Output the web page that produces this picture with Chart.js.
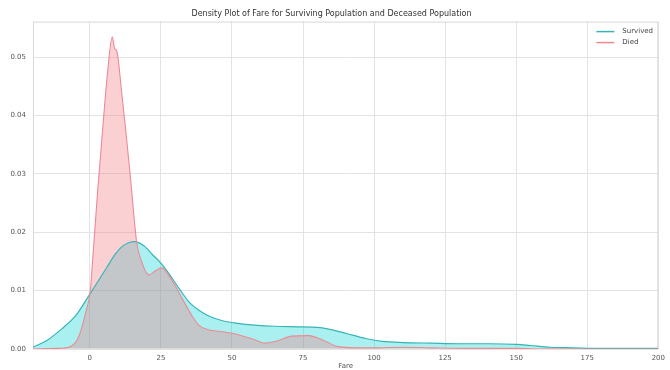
<!DOCTYPE html>
<html>
<head>
<meta charset="utf-8">
<script src="https://cdn.jsdelivr.net/npm/chart.js@4"></script>
<style>
  html, body { margin: 0; padding: 0; background: #fff; }
</style>
</head>
<body>
<canvas id="chart" width="670" height="370"></canvas>
<script>
const xTicks = [0, 25, 50, 75, 100, 125, 150, 175, 200];
const yTicks = [0, 0.01, 0.02, 0.03, 0.04, 0.05];

const survivedFare = [-20, -15, -10, -5, 0, 3, 6, 9, 12, 15.5, 19, 22, 25, 28, 31.5, 35, 38.5, 42, 47, 52, 58, 65, 73, 80, 84, 90, 97, 103, 110, 120, 130, 140, 150, 155, 162, 170, 180, 190, 200];
const survivedDensity = [0.0003, 0.0015, 0.0034, 0.0057, 0.0094, 0.0117, 0.0140, 0.0163, 0.0178, 0.0184, 0.0177, 0.0162, 0.0147, 0.0128, 0.0103, 0.0080, 0.0066, 0.0056, 0.0048, 0.0044, 0.0041, 0.0039, 0.0038, 0.0037, 0.0034, 0.0027, 0.0018, 0.0013, 0.0011, 0.0010, 0.0009, 0.0009, 0.0008, 0.0006, 0.0003, 0.0002, 0.0001, 0.0001, 0.0001];

const diedFare = [-20, -12, -7, -3.9, -1.5, 0.2, 0.8, 2.6, 4.3, 6.1, 7.9, 8.7, 9.5, 11.2, 12.6, 14.3, 16.5, 18.2, 20.7, 23.1, 25.2, 28.8, 32.3, 35.8, 38.5, 41.7, 46, 50, 54, 58, 61.5, 66, 71, 77, 83, 87.3, 94, 100, 110, 120, 135, 150, 160, 200];
const diedDensity = [0.0000, 0.0001, 0.0004, 0.0021, 0.0062, 0.0101, 0.0140, 0.0261, 0.0364, 0.0467, 0.0535, 0.0515, 0.0510, 0.0440, 0.0376, 0.0293, 0.0182, 0.0150, 0.0127, 0.0134, 0.0139, 0.0118, 0.0088, 0.0058, 0.0040, 0.0033, 0.0030, 0.0027, 0.0022, 0.0016, 0.0010, 0.0014, 0.0022, 0.0023, 0.0013, 0.0004, 0.0002, 0.0002, 0.0003, 0.0002, 0.0001, 0.0001, 0.0000, 0.0000];

Chart.defaults.font.family = "'DejaVu Sans', sans-serif";

// frame round the plot, like the axes spines
const frame = {
  id: "frame",
  beforeDatasetsDraw(chart) {
    const { ctx, chartArea: a } = chart;
    ctx.save();
    ctx.strokeStyle = "#d8d8d8";
    ctx.lineWidth = 1;
    ctx.strokeRect(a.left + 0.5, a.top + 0.5, a.right - a.left - 1, a.bottom - a.top - 1);
    ctx.restore();
  },
};

// legend sits inside the plot, top right
const legendInside = {
  id: "legendInside",
  afterDraw(chart) {
    const { ctx, chartArea } = chart;
    ctx.save();
    ctx.font = "7px 'DejaVu Sans', sans-serif";
    ctx.textBaseline = "middle";
    [1, 0].forEach((di, k) => {
      const ds = chart.data.datasets[di];
      const x = chartArea.right - 62;
      const y = chartArea.top + 10 + k * 11;
      ctx.strokeStyle = ds.borderColor;
      ctx.lineWidth = 1.5;
      ctx.beginPath();
      ctx.moveTo(x, y);
      ctx.lineTo(x + 18, y);
      ctx.stroke();
      ctx.fillStyle = "#444";
      ctx.fillText(ds.label, x + 26, y);
    });
    ctx.restore();
  },
};

const ctx = document.getElementById("chart").getContext("2d");
new Chart(ctx, {
  type: "line",
  data: {
    datasets: [
      {
        label: "Died",
        data: diedFare.map((x, i) => ({ x: x, y: diedDensity[i] })),
        borderColor: "rgb(236, 138, 148)",
        backgroundColor: "rgba(240, 120, 128, 0.35)",
        fill: "origin",
        borderWidth: 1.1,
        pointRadius: 0,
        cubicInterpolationMode: "monotone",
      },
      {
        label: "Survived",
        data: survivedFare.map((x, i) => ({ x: x, y: survivedDensity[i] })),
        borderColor: "rgb(55, 180, 182)",
        backgroundColor: "rgba(0, 210, 210, 0.33)",
        fill: "origin",
        borderWidth: 1.2,
        pointRadius: 0,
        cubicInterpolationMode: "monotone",
      },
    ],
  },
  options: {
    responsive: false,
    animation: false,
    layout: { padding: { top: 0, right: 7, bottom: 0, left: 0 } },
    plugins: {
      legend: { display: false },
      tooltip: { enabled: false },
      filler: { drawTime: "beforeDatasetsDraw" },
      title: {
        display: true,
        text: "Density Plot of Fare for Surviving Population and Deceased Population",
        color: "#333",
        font: { size: 8, weight: "normal" },
        padding: { top: 9, bottom: 3 },
      },
    },
    scales: {
      x: {
        type: "linear",
        min: -20,
        max: 200,
        afterBuildTicks: (s) => { s.ticks = xTicks.map((v) => ({ value: v })); },
        afterFit: (s) => { s.height = 21; },
        grid: { color: "#e3e3e3", drawTicks: false },
        border: { display: false },
        ticks: { padding: 5, color: "#555", font: { size: 7 } },
        title: { display: true, text: "Fare", color: "#555", font: { size: 7 }, padding: 0 },
      },
      y: {
        min: 0,
        max: 0.0561,
        afterBuildTicks: (s) => { s.ticks = yTicks.map((v) => ({ value: v })); },
        afterFit: (s) => { s.width = 33; },
        grid: { color: "#e3e3e3", drawTicks: false },
        border: { display: false },
        ticks: { padding: 7, color: "#555", font: { size: 7 }, callback: (v) => v.toFixed(2) },
      },
    },
  },
  plugins: [frame, legendInside],
});
</script>
</body>
</html>
